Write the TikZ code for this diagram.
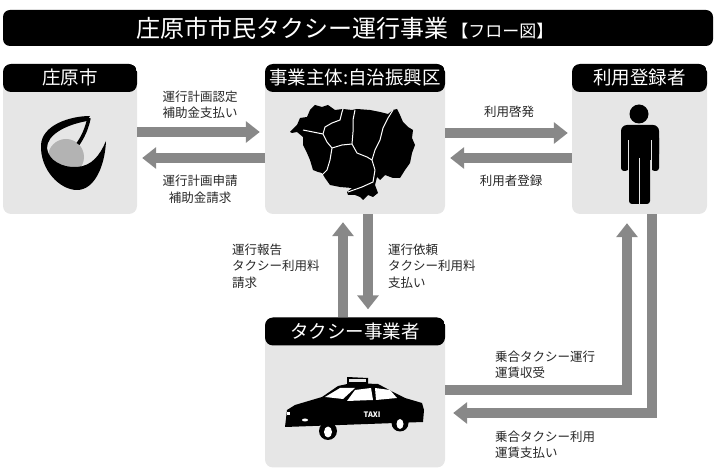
\documentclass[tikz,border=0pt]{standalone}
\usepackage{fontspec}
\setmainfont{Noto Sans CJK JP}
\usetikzlibrary{arrows.meta}

\definecolor{panelgray}{HTML}{E6E6E6}
\definecolor{flowgray}{HTML}{888888}
\definecolor{markgray}{HTML}{B3B3B3}

\begin{document}
\begin{tikzpicture}[
  x=1pt, y=-1pt,
  panel/.style={
    rectangle, fill=panelgray,
    rounded corners=8pt,
    inner sep=0pt,
    minimum height=150pt,
    path picture={\fill[black] (path picture bounding box.north west)
      rectangle ([yshift=-28pt]path picture bounding box.north east);}
  },
  head/.style={text=white, inner sep=0pt, font=\fontsize{18.5}{20}\selectfont},
  note/.style={text=black!85, inner sep=0pt, font=\fontsize{12.5}{16.5}\selectfont},
  flow/.style={draw=flowgray, line width=10pt, -{Triangle[length=14pt, width=21pt]}}
]
\useasboundingbox (0,0) rectangle (716,473);

% --- title bar ---
\node[fill=black, rounded corners=7pt, minimum width=710pt, minimum height=36pt] (titlebar) at (358,28) {};
\node[text=white, inner sep=0pt] (title) at (345,28)
  {\fontsize{24}{28}\selectfont 庄原市市民タクシー運行事業\hspace{3pt}\fontsize{17}{20}\selectfont 【フロー図】};

% --- panels ---
\node[panel, minimum width=134pt] (shobara) at (70,139) {};
\node[panel, minimum width=180pt] (jichi) at (355,139) {};
\node[panel, minimum width=135pt] (riyosha) at (639.5,139) {};
\node[panel, minimum width=180pt] (taxi) at (355,392.5) {};

\node[head] (shobara-h) at ([yshift=-14pt]shobara.north) {庄原市};
\node[head] (jichi-h) at ([yshift=-14pt]jichi.north) {事業主体:自治振興区};
\node[head] (riyosha-h) at ([yshift=-14pt]riyosha.north) {利用登録者};
\node[head] (taxi-h) at ([yshift=-14pt]taxi.north) {タクシー事業者};

% --- city mark ---
\fill[markgray] (66,157) circle (18);
\fill[black] (90,116) .. controls (70,116) and (42,125) .. (41,145)
  .. controls (40,170) and (60,190) .. (77,190)
  .. controls (95,190) and (105,165) .. (106,141)
  .. controls (100,155) and (92,166) .. (77,167)
  .. controls (62,168) and (48,160) .. (47,148)
  .. controls (47,135) and (65,125) .. (87,121) -- cycle;
\draw[black, line width=3.5pt] (89,118) .. controls (87,128) and (83,137) .. (78,144);

% --- district map ---
\fill[black] (290,132) -- (297,125) -- (300,118) -- (307,117) -- (310,110) -- (315,105)
  -- (322,107) -- (328,105) -- (335,110) -- (343,109) -- (352,110) -- (357,109)
  -- (370,110) -- (380,112) -- (388,114) -- (393,110) -- (397,109) -- (400,115)
  -- (403,122) -- (408,127) -- (413,130) -- (412,138) -- (415,145) -- (412,153)
  -- (410,163) -- (405,170) -- (400,178) -- (393,178) -- (385,175) -- (380,180)
  -- (377,177) -- (375,185) -- (378,193) -- (373,197) -- (368,195) -- (363,200)
  -- (360,197) -- (355,195) -- (348,195) -- (347,192) -- (352,188) -- (340,187)
  -- (330,185) -- (325,178) -- (322,173) -- (318,172) -- (313,170) -- (310,160)
  -- (307,153) -- (303,145) -- (303,137) -- (297,132) -- (292,133) -- cycle;
\draw[white, line width=1pt, line join=round]
  (303,130) -- (313,132) -- (323,134) -- (325,127) -- (332,123) -- (340,120) -- (342,112) -- (343,109)
  (323,134) -- (327,142) -- (332,148) -- (342,145) -- (352,144)
  (332,148) -- (330,160) -- (327,170) -- (322,175)
  (352,144) -- (353,132) -- (353,120) -- (355,110)
  (352,144) -- (357,153) -- (367,157) -- (372,160) -- (375,170) -- (373,182) -- (362,187) -- (348,192)
  (372,160) -- (375,150) -- (380,140) -- (383,128) -- (388,118) -- (393,110);

% --- person ---
\fill[black] (639,114) circle (9.5);
\fill[black, rounded corners=6pt] (621,125) rectangle (659,160);
\fill[black, rounded corners=3pt] (621,135) rectangle (628.5,171);
\fill[black, rounded corners=3pt] (651.5,135) rectangle (659,171);
\fill[black, rounded corners=3pt] (629,150) rectangle (650,204);
\draw[panelgray, line width=1.3pt] (628.8,140) -- (628.8,172) (651.2,140) -- (651.2,172) (639.5,158) -- (639.5,205);

% --- taxi ---
\fill[black] (328,431) circle (9);
\fill[black] (400,423) circle (8.5);
\fill[black] (285,427) -- (287,410) -- (295,405) -- (322,397) -- (338,386) -- (352,383)
  -- (378,384) -- (395,393) -- (405,398) -- (422,403) -- (424,410) -- (423,422) -- cycle;
\fill[black] (347,377) -- (368,378) -- (368,385) -- (347,385) -- cycle;
\fill[panelgray] (349,379) rectangle (366,382);
\fill[white] (325,397) -- (340,388) -- (355,388) -- (343,399) -- cycle;
\fill[white] (347,401) -- (355,390) -- (371,388) -- (373,400) -- cycle;
\fill[white] (375,388) -- (390,390) -- (397,398) -- (376,400) -- cycle;
\fill[white] (328,432) ellipse (4 and 5.5);
\fill[white] (400,424) ellipse (3.5 and 5);
\fill[white] (287,412) rectangle (290,415);
\fill[white] (305,420) ellipse (3 and 1.5);
\node[text=white, inner sep=0pt, font=\fontsize{7.5}{8}\selectfont\bfseries] (taxi-sign) at (372,415) {TAXI};

% --- flows ---
\draw[flow, shorten >=5pt] ([yshift=7pt]shobara.east) -- ([yshift=7pt]jichi.west);
\draw[flow, shorten >=5pt] ([yshift=-19pt]jichi.west) -- ([yshift=-19pt]shobara.east);
\draw[flow, shorten >=4pt] ([yshift=6pt]jichi.east) -- ([yshift=6pt]riyosha.west);
\draw[flow, shorten >=5pt] ([yshift=-19pt]riyosha.west) -- ([yshift=-19pt]jichi.east);
\draw[flow, shorten >=8pt] ([xshift=-12pt]taxi.north) -- ([xshift=-12pt]jichi.south);
\draw[flow, shorten >=8pt] ([xshift=13pt]jichi.south) -- ([xshift=13pt]taxi.north);
\draw[flow, shorten >=9pt] ([yshift=2pt]taxi.east) -| ([xshift=-12.5pt]riyosha.south);
\draw[flow, shorten >=8pt] ([xshift=12.5pt]riyosha.south) |- ([yshift=-20.5pt]taxi.east);

% --- flow labels ---
\node[note, align=center] (subsidy) at (200,105) {運行計画認定\\補助金支払い};
\node[note, align=center] (request) at (200,189.5) {運行計画申請\\補助金請求};
\node[note, align=center] (promo) at (509,112) {利用啓発};
\node[note, align=center] (signup) at (511,181) {利用者登録};
\node[note, align=left, anchor=west] (report) at (232,266) {運行報告\\タクシー利用料\\請求};
\node[note, align=left, anchor=west] (order) at (388,266) {運行依頼\\タクシー利用料\\支払い};
\node[note, align=left, anchor=west] (fare-in) at (495,365) {乗合タクシー運行\\運賃収受};
\node[note, align=left, anchor=west] (fare-out) at (495,445) {乗合タクシー利用\\運賃支払い};

\end{tikzpicture}
\end{document}
